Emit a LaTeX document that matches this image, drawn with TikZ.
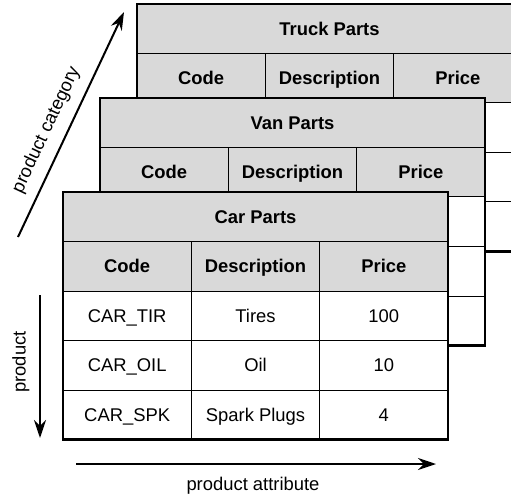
\documentclass[tikz,border=0pt]{standalone}
\usepackage{fontspec}
\setmainfont{Liberation Sans}
\usetikzlibrary{arrows.meta}
\definecolor{hdrgray}{HTML}{D9D9D9}
\tikzset{
  cellbase/.style={draw=black, line width=1pt, minimum width=128.33pt, minimum height=49.5pt,
    inner sep=0pt, outer sep=0pt, anchor=north west, text height=13.2pt, text depth=0pt,
    font=\fontsize{18.4}{22}\selectfont},
  titlecell/.style={cellbase, fill=hdrgray, minimum width=385pt, font=\fontsize{18.4}{22}\selectfont\bfseries},
  headcell/.style={cellbase, fill=hdrgray, font=\fontsize{18.4}{22}\selectfont\bfseries},
  datacell/.style={cellbase, fill=white},
  outerframe/.style={draw=black, line width=2.2pt},
  axisarrow/.style={draw=black, line width=2pt, -{Stealth[length=18pt,width=12pt]}},
  axislabel/.style={font=\fontsize{18.4}{22}\selectfont, inner sep=0pt, text height=13.2pt, text depth=3.9pt},
}
\newcommand\parttable[5]{% #1 name, #2 x, #3 y, #4 title, #5 rows
  \node[titlecell] (#1-t) at (#2,#3) {#4};
  \node[headcell] (#1-h1) at (#2,#3+49.5) {Code};
  \node[headcell] (#1-h2) at (#2+128.33,#3+49.5) {Description};
  \node[headcell] (#1-h3) at (#2+256.67,#3+49.5) {Price};
  \foreach \ca/\cb/\cc [count=\ri] in {#5} {
    \node[datacell] (#1-r\ri-1) at (#2,{#3+(\ri+1)*49.5}) {\ca};
    \node[datacell] (#1-r\ri-2) at (#2+128.33,{#3+(\ri+1)*49.5}) {\cb};
    \node[datacell] (#1-r\ri-3) at (#2+256.67,{#3+(\ri+1)*49.5}) {\cc};
  }
  \draw[outerframe] (#1-t.north west) rectangle (#1-r3-3.south east);
}
\begin{document}
\begin{tikzpicture}[x=1pt,y=-1pt]
  \clip (0,0) rectangle (511,497);
  \parttable{truck}{137}{4}{Truck Parts}{{}/{}/{},{}/{}/{},{}/{}/{}}
  \parttable{van}{100}{98}{Van Parts}{{}/{}/{},{}/{}/{},{}/{}/{}}
  \parttable{car}{63}{192}{Car Parts}{CAR\_TIR/Tires/100,CAR\_OIL/Oil/10,CAR\_SPK/Spark Plugs/4}

  % axes
  \coordinate (catA) at (18,237);
  \coordinate (catB) at (124,12);
  \draw[axisarrow] (catA) -- (catB);
  \node[axislabel, rotate=65] (catL) at (46.5,130) {product category};

  \coordinate (prodA) at (40,295);
  \coordinate (prodB) at (40,438);
  \draw[axisarrow] (prodA) -- (prodB);
  \node[axislabel, rotate=90] (prodL) at (21,362) {product};

  \coordinate (attA) at (76,464);
  \coordinate (attB) at (436,464);
  \draw[axisarrow] (attA) -- (attB);
  \node[axislabel] (attL) at (253,486) {product attribute};
\end{tikzpicture}
\end{document}
